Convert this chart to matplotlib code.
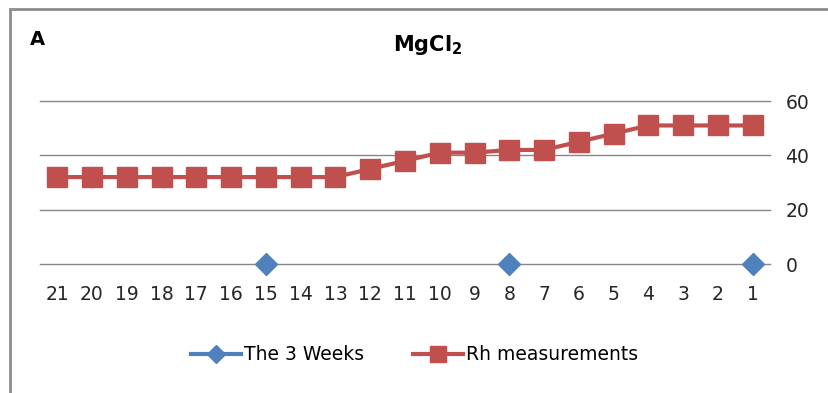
import numpy as np
import matplotlib.pyplot as plt
from matplotlib.patches import Rectangle

plt.rcParams['font.family'] = ['DejaVu Sans']

# days counted down from 21 to 1
days = [21, 20, 19, 18, 17, 16, 15, 14, 13, 12, 11, 10, 9, 8, 7, 6, 5, 4, 3, 2, 1]
rh = [32, 32, 32, 32, 32, 32, 32, 32, 32, 35, 38, 41, 41, 42, 42, 45, 48, 51, 51, 51, 51]
week_days = [15, 8, 1]
week_vals = [0, 0, 0]
yticks = [0, 20, 40, 60]

blue = '#4F81BD'
red = '#C0504D'
grid = '#868686'

weeks = np.full(len(days), np.nan)
for d, v in zip(week_days, week_vals):
    weeks[days.index(d)] = v

fig = plt.figure(figsize=(8.29, 3.93), dpi=100)
ax = fig.add_axes([0.048, 0.328, 0.881, 0.415])

x = np.arange(len(days))
ax.plot(x, weeks, color=blue, lw=3, marker='D', ms=11.5, mec=blue,
        label='The 3 Weeks', zorder=3, clip_on=False)
ax.plot(x, rh, color=red, lw=3, marker='s', ms=15, mec=red,
        label='Rh measurements', zorder=3, clip_on=False)

ax.set_xlim(-0.5, len(days) - 0.5)
ax.set_ylim(0, 60)
ax.set_yticks(yticks)
ax.set_xticks(x)
ax.set_xticklabels([str(d) for d in days])
ax.yaxis.tick_right()
ax.tick_params(axis='both', length=0, labelsize=13.5, colors='#262626')
ax.tick_params(axis='x', pad=15)
ax.tick_params(axis='y', pad=11)
for t in yticks:
    ax.axhline(t, color=grid, lw=1, clip_on=False, zorder=1)
for s in ax.spines.values():
    s.set_visible(False)

fig.text(0.516, 0.885, r'MgCl$_\mathregular{2}$', ha='center', va='center',
         fontsize=15, fontweight='bold')
fig.text(0.036, 0.9, 'A', ha='left', va='center', fontsize=14, fontweight='bold')

fig.legend(loc='center', bbox_to_anchor=(0.5, 0.097), ncol=2, frameon=False,
           fontsize=13.5, handlelength=2.7, handletextpad=0.15, columnspacing=2.6,
           markerscale=0.8)

# outer chart frame (clipped at right and bottom)
fig.add_artist(Rectangle((10 / 829, -0.1), 1.0, 1 - 9 / 393 + 0.1,
                         transform=fig.transFigure, fill=False,
                         edgecolor='#8c8c8c', lw=2))

fig.savefig('out.png', dpi=100)
